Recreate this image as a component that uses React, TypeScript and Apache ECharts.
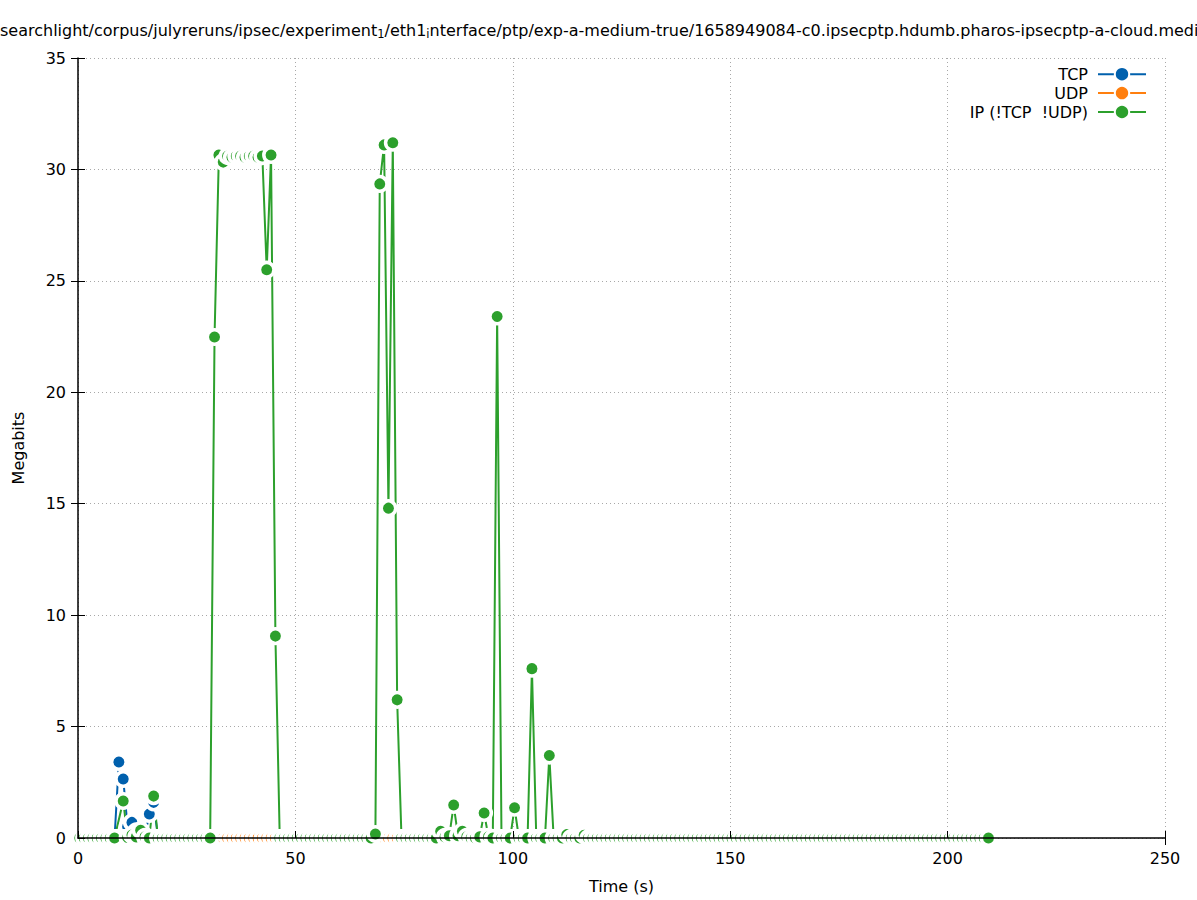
import React, { useEffect, useRef } from 'react';
import * as echarts from 'echarts';

// One sample per second; first sample time and sample step (s)
const firstSampleTime = 0.4;
const sampleStep = 1;

// Megabits per sample, 21 samples per row
const tcp = [
  0, 0, 0, 0, 0, 0, 0, 0, 0, 3.41, 2.65, 0.5, 0.7, 0.3, 0.2, 0.1, 1.08, 1.6, 0, 0, 0,
  0, 0, 0, 0, 0, 0, 0, 0, 0, 0, 0, 0, 0, 0, 0, 0, 0, 0, 0, 0, 0,
  0, 0, 0, 0, 0, 0, 0, 0, 0, 0, 0, 0, 0, 0, 0, 0, 0, 0, 0, 0, 0,
  0, 0, 0, 0, 0, 0, 0, 0, 0, 0, 0, 0, 0, 0, 0, 0, 0, 0, 0, 0, 0,
  0, 0, 0, 0, 0, 0, 0, 0, 0, 0, 0, 0, 0, 0, 0, 0, 0, 0, 0, 0, 0,
  0, 0, 0, 0, 0, 0, 0, 0, 0, 0, 0, 0, 0, 0, 0, 0, 0, 0, 0, 0, 0,
  0, 0, 0, 0, 0, 0, 0, 0, 0, 0, 0, 0, 0, 0, 0, 0, 0, 0, 0, 0, 0,
  0, 0, 0, 0, 0, 0, 0, 0, 0, 0, 0, 0, 0, 0, 0, 0, 0, 0, 0, 0, 0,
  0, 0, 0, 0, 0, 0, 0, 0, 0, 0, 0, 0, 0, 0, 0, 0, 0, 0, 0, 0, 0,
  0, 0, 0, 0, 0, 0, 0, 0, 0, 0, 0, 0, 0, 0, 0, 0, 0, 0, 0, 0, 0,
];

const udp = [
  0, 0, 0, 0, 0, 0, 0, 0, 0, 0, 0, 0, 0, 0, 0, 0, 0, 0, 0, 0, 0,
  0, 0, 0, 0, 0, 0, 0, 0, 0, 0, 0, 0, 0, 0, 0, 0, 0, 0, 0, 0, 0,
  0, 0, 0, 0, 0, 0, 0, 0, 0, 0, 0, 0, 0, 0, 0, 0, 0, 0, 0, 0, 0,
  0, 0, 0, 0, 0, 0, 0, 0, 0, 0, 0, 0, 0, 0, 0, 0, 0, 0, 0, 0, 0,
  0, 0, 0, 0, 0, 0, 0, 0, 0, 0, 0, 0, 0, 0, 0, 0, 0, 0, 0, 0, 0,
  0, 0, 0, 0, 0, 0, 0, 0, 0, 0, 0, 0, 0, 0, 0, 0, 0, 0, 0, 0, 0,
  0, 0, 0, 0, 0, 0, 0, 0, 0, 0, 0, 0, 0, 0, 0, 0, 0, 0, 0, 0, 0,
  0, 0, 0, 0, 0, 0, 0, 0, 0, 0, 0, 0, 0, 0, 0, 0, 0, 0, 0, 0, 0,
  0, 0, 0, 0, 0, 0, 0, 0, 0, 0, 0, 0, 0, 0, 0, 0, 0, 0, 0, 0, 0,
  0, 0, 0, 0, 0, 0, 0, 0, 0, 0, 0, 0, 0, 0, 0, 0, 0, 0, 0, 0, 0,
];

const ipOther = [
  0, 0, 0, 0, 0, 0, 0, 0, 0, null, 1.66, 0.02, 0.13, 0.05, 0.35, 0.05, 0, 1.88, 0, 0, 0,
  0, 0, 0, 0, 0, 0, 0, 0, 0, 0, 22.48, 30.65, 30.33, 30.6, 30.55, 30.6, 30.6, 30.55, 30.6, 30.6, 30.55,
  30.6, 25.5, 30.65, 9.06, 0, 0, 0, 0, 0, 0, 0, 0, 0, 0, 0, 0, 0, 0, 0, 0, 0,
  0, 0, 0, 0, 0, 0.18, 29.35, 31.1, 14.8, 31.2, 6.2, 0, 0, 0, 0, 0, 0, 0, 0, 0, 0.3,
  0.05, 0.1, 1.48, 0.1, 0.3, 0.05, 0, 0, 0.05, 1.12, 0.05, 0, 23.4, 0, 0, 0, 1.36, 0, 0, 0, 7.6,
  0, 0, 0, 3.7, 0, 0, 0, 0.15, 0, 0, 0, 0.12, 0, 0, 0, 0, 0, 0, 0, 0, 0,
  0, 0, 0, 0, 0, 0, 0, 0, 0, 0, 0, 0, 0, 0, 0, 0, 0, 0, 0, 0, 0,
  0, 0, 0, 0, 0, 0, 0, 0, 0, 0, 0, 0, 0, 0, 0, 0, 0, 0, 0, 0, 0,
  0, 0, 0, 0, 0, 0, 0, 0, 0, 0, 0, 0, 0, 0, 0, 0, 0, 0, 0, 0, 0,
  0, 0, 0, 0, 0, 0, 0, 0, 0, 0, 0, 0, 0, 0, 0, 0, 0, 0, 0, 0, 0,
];

const seriesNames = ['TCP', 'UDP', 'IP (!TCP \u00a0!UDP)'];
const seriesColors = ['#0060ad', '#ff7f0e', '#2ca02c'];
const xTicks = { min: 0, max: 250, interval: 50 };
const yTicks = { min: 0, max: 35, interval: 5 };

// Visible part of the (page-wide) title, with its two subscripts
const titleRich =
  '{n|searchlight/corpus/julyreruns/ipsec/experiment}{s|1}{n|/eth1}{s|i}' +
  '{n|nterface/ptp/exp-a-medium-true/1658949084-c0.ipsecptp.hdumb.pharos-ipsecptp-a-cloud.medi}';

const FONT = 'DejaVu Sans';

export default function App() {
  const ref = useRef<HTMLDivElement>(null);
  useEffect(() => {
    if (!ref.current) return;
    const chart = echarts.init(ref.current, undefined, { renderer: 'svg' });
    const valueSets = [tcp, udp, ipOther];
    const series = valueSets.map((vals, k) => ({
      type: 'line',
      name: seriesNames[k],
      data: vals.map((v, i) => [firstSampleTime + i * sampleStep, v]),
      xAxisIndex: 0,
      yAxisIndex: 0,
      symbol: 'circle',
      symbolSize: 14.5,
      showAllSymbol: true,
      connectNulls: true,
      silent: true,
      z: 2,
      lineStyle: { color: seriesColors[k], width: 2 },
      itemStyle: { color: seriesColors[k], borderColor: '#ffffff', borderWidth: 3.5 },
      emphasis: { disabled: true },
    }));
    const tickStyle = { show: true, inside: true, length: 7, lineStyle: { color: '#000', width: 1 } };
    const gridLine = { show: true, lineStyle: { color: '#a8a8a8', width: 1, type: [1, 3] } };
    chart.setOption({
      animation: false,
      textStyle: { fontFamily: FONT },
      grid: { left: 78, right: 32, top: 58, bottom: 62, containLabel: false },
      graphic: [
        {
          type: 'text',
          x: 0,
          y: 30,
          style: {
            text: titleRich,
            verticalAlign: 'middle',
            align: 'left',
            fill: '#000',
            rich: {
              n: { fontSize: 16, fontFamily: FONT, lineHeight: 20, fill: '#000' },
              s: { fontSize: 11.5, fontFamily: FONT, verticalAlign: 'bottom', lineHeight: 12, fill: '#000' },
            },
          },
        },
      ],
      legend: {
        data: seriesNames,
        orient: 'vertical',
        right: 50,
        top: 66,
        padding: 0,
        align: 'right',
        itemWidth: 48,
        itemHeight: 18,
        itemGap: 2.5,
        selectedMode: false,
        textStyle: { fontSize: 16, color: '#000', fontFamily: FONT, padding: [0, 5, 0, 0] },
      },
      xAxis: [
        {
          type: 'value',
          ...xTicks,
          position: 'bottom',
          z: 10,
          name: 'Time (s)',
          nameLocation: 'middle',
          nameGap: 40,
          nameTextStyle: { fontSize: 16, color: '#000', fontFamily: FONT },
          axisLine: { show: true, onZero: false, lineStyle: { color: '#000', width: 1.5 } },
          axisTick: tickStyle,
          axisLabel: { fontSize: 16, color: '#000', margin: 12, fontFamily: FONT },
          splitLine: { show: false },
        },
        {
          type: 'value',
          ...xTicks,
          position: 'top',
          z: 0,
          axisLine: { show: false },
          axisTick: tickStyle,
          axisLabel: { show: false },
          splitLine: gridLine,
        },
      ],
      yAxis: [
        {
          type: 'value',
          ...yTicks,
          position: 'left',
          z: 10,
          name: 'Megabits',
          nameLocation: 'middle',
          nameGap: 52,
          nameTextStyle: { fontSize: 16, color: '#000', fontFamily: FONT },
          axisLine: { show: true, onZero: false, lineStyle: { color: '#000', width: 1.5 } },
          axisTick: tickStyle,
          axisLabel: { fontSize: 16, color: '#000', margin: 12, fontFamily: FONT },
          splitLine: { show: false },
        },
        {
          type: 'value',
          ...yTicks,
          position: 'right',
          z: 0,
          axisLine: { show: false },
          axisTick: tickStyle,
          axisLabel: { show: false },
          splitLine: gridLine,
        },
      ],
      series,
    });
    return () => chart.dispose();
  }, []);
  return (
    <div
      ref={ref}
      style={{ position: 'fixed', left: 0, top: 0, width: 1197, height: 900, background: '#fff' }}
    />
  );
}
